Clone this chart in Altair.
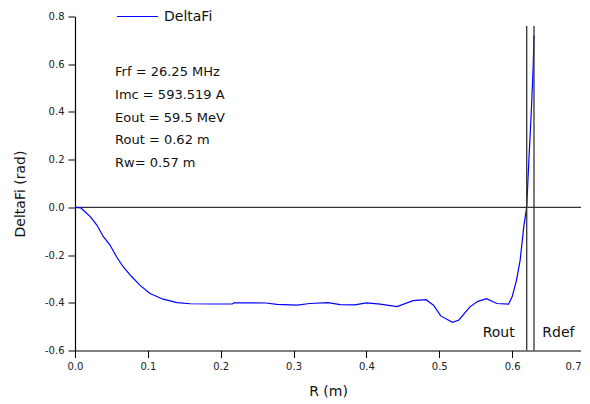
import altair as alt
import pandas as pd

# Curve values
r_vals = [0.000, 0.008, 0.011, 0.021, 0.030, 0.039, 0.048, 0.057, 0.066, 0.078, 0.089,
          0.103, 0.121, 0.140, 0.158, 0.190, 0.216, 0.218, 0.262, 0.277, 0.305,
          0.322, 0.347, 0.364, 0.384, 0.400, 0.419, 0.442, 0.464, 0.482, 0.492,
          0.502, 0.518, 0.527, 0.542, 0.553, 0.565, 0.579, 0.595, 0.600, 0.606,
          0.611, 0.616, 0.620, 0.623, 0.625, 0.627, 0.629, 0.630]
dfi_vals = [0.000, -0.002, -0.011, -0.039, -0.074, -0.123, -0.158, -0.207, -0.249, -0.291, -0.326,
            -0.361, -0.385, -0.399, -0.404, -0.405, -0.405, -0.400, -0.401, -0.407, -0.410,
            -0.403, -0.399, -0.408, -0.409, -0.400, -0.406, -0.416, -0.391, -0.387, -0.410,
            -0.455, -0.482, -0.472, -0.417, -0.394, -0.383, -0.403, -0.406, -0.375, -0.305,
            -0.221, -0.081, 0.003, 0.200, 0.320, 0.450, 0.600, 0.720]

# Tick values
x_ticks = [0.0, 0.05, 0.1, 0.15, 0.2, 0.25, 0.3, 0.35, 0.4, 0.45, 0.5, 0.55, 0.6, 0.65, 0.7]
y_ticks = [-0.6, -0.5, -0.4, -0.3, -0.2, -0.1, 0.0, 0.1, 0.2, 0.3, 0.4, 0.5, 0.6, 0.7, 0.8]

# Marker lines
vline_x = [0.62, 0.63]
vline_bottom = [-0.6, -0.6]
vline_top = [0.76, 0.76]
vline_labels = ["Rout", "Rdef"]
vline_label_x = [0.5596, 0.6414]
vline_label_y = [-0.526, -0.526]

# Annotation block
info_lines = ["Frf = 26.25 MHz", "Imc = 593.519 A", "Eout = 59.5 MeV", "Rout = 0.62 m", "Rw= 0.57 m"]
info_x = [0.055, 0.055, 0.055, 0.055, 0.055]
info_y = [0.569, 0.471, 0.373, 0.282, 0.185]

FONT = "DejaVu Sans"

curve = pd.DataFrame({"R": r_vals, "DeltaFi": dfi_vals, "series": "DeltaFi"})
vlines = pd.DataFrame({"x": vline_x, "y": vline_bottom, "y2": vline_top})
vlabels = pd.DataFrame({"x": vline_label_x, "y": vline_label_y, "t": vline_labels})
info = pd.DataFrame({"x": info_x, "y": info_y, "t": info_lines})
zero = pd.DataFrame({"y": [0.0]})

x_major = "abs(datum.value*10 - round(datum.value*10)) < 0.001"
y_major = "abs(datum.value*5 - round(datum.value*5)) < 0.001"
x_last = "datum.value > 0.69"

x_scale = alt.Scale(domain=[0, 0.7], nice=False, zero=False)
y_scale = alt.Scale(domain=[-0.6, 0.8], nice=False, zero=False)

x_axis = alt.Axis(
    values=x_ticks,
    labelExpr=f"{x_major} ? format(datum.value, '.1f') : ''",
    tickSize={"condition": {"test": x_major, "value": 7}, "value": 4},
    tickColor="black", domainColor="black", domainWidth=1.2, tickWidth=1,
    labelFont=FONT, labelFontSize=10, labelColor="#222", labelPadding=4,
    labelAlign={"condition": {"test": x_last, "value": "right"}, "value": "center"},
    labelOffset={"condition": {"test": x_last, "value": -4}, "value": 0},
    labelFlush=False, labelOverlap=False,
    title="R (m)", titleFont=FONT, titleFontSize=14, titleFontWeight="normal",
    titleColor="#111", titleX=253, titleY=41, titleBaseline="middle",
    grid=False,
)
y_axis = alt.Axis(
    values=y_ticks,
    labelExpr=f"{y_major} ? replace(format(datum.value, '.1f'), '\u2212', '-') : ''",
    tickSize={"condition": {"test": y_major, "value": 7}, "value": 4},
    tickColor="black", domainColor="black", domainWidth=1.2, tickWidth=1,
    labelFont=FONT, labelFontSize=10, labelColor="#222", labelPadding=4,
    labelFlush=False, labelOverlap=False,
    title="DeltaFi (rad)", titleFont=FONT, titleFontSize=14, titleFontWeight="normal",
    titleColor="#111", titleX=-55, titleY=177, titleBaseline="middle", titleAngle=270,
    grid=False,
)

line = alt.Chart(curve).mark_line(strokeWidth=1.2, clip=False).encode(
    x=alt.X("R:Q", scale=x_scale, axis=x_axis),
    y=alt.Y("DeltaFi:Q", scale=y_scale, axis=y_axis),
    color=alt.Color(
        "series:N",
        scale=alt.Scale(range=["#0000ff"]),
        legend=alt.Legend(
            orient="none", legendX=41, legendY=-21.5, title=None,
            symbolType="stroke", symbolSize=1681, symbolStrokeWidth=1.2,
            labelFont=FONT, labelFontSize=14, labelColor="#111", labelOffset=5,
            padding=0,
        ),
    ),
)

zero_rule = alt.Chart(zero).mark_rule(color="#333", strokeWidth=1.3).encode(
    y=alt.Y("y:Q", scale=y_scale)
)

vrules = alt.Chart(vlines).mark_rule(color="#333", strokeWidth=1.3).encode(
    x=alt.X("x:Q", scale=x_scale), y=alt.Y("y:Q", scale=y_scale), y2="y2:Q"
)

vtext = alt.Chart(vlabels).mark_text(
    align="left", baseline="middle", font=FONT, fontSize=14, color="#111"
).encode(x=alt.X("x:Q", scale=x_scale), y=alt.Y("y:Q", scale=y_scale), text="t:N")

itext = alt.Chart(info).mark_text(
    align="left", baseline="middle", font=FONT, fontSize=13, color="#111"
).encode(x=alt.X("x:Q", scale=x_scale), y=alt.Y("y:Q", scale=y_scale), text="t:N")

chart = alt.layer(zero_rule, line, vrules, vtext, itext).properties(
    width=510, height=334,
    autosize=alt.AutoSizeParams(type="none"),
    padding={"left": 67, "top": 8.5, "right": -4, "bottom": 50},
).configure_view(stroke=None)

chart.save("out.html", embed_options={"renderer": "svg", "actions": False})
